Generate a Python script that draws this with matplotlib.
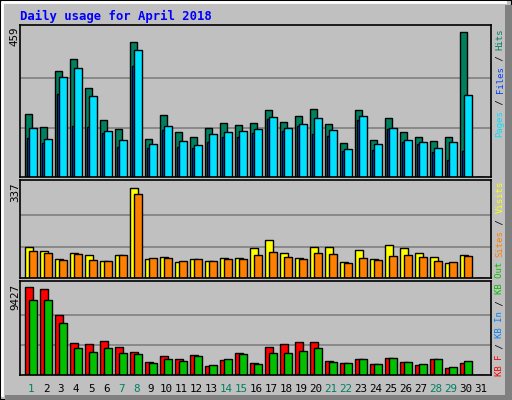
import matplotlib

matplotlib.use("Agg")
import matplotlib.pyplot as plt  # noqa: E402
from matplotlib.patches import Rectangle  # noqa: E402

W, H = 512, 400
days = list(range(1, 32))
weekend = {1, 7, 8, 14, 15, 21, 22, 28, 29}

hits = [196, 156, 330, 367, 275, 177, 150, 419, 119, 193, 141, 125, 153, 168, 162, 168,
        208, 171, 190, 211, 165, 104, 208, 116, 184, 141, 125, 113, 125, 450, 0]
files = [153, 119, 309, 337, 251, 144, 116, 395, 101, 159, 113, 98, 132, 141, 144, 150,
         187, 153, 165, 184, 147, 86, 190, 101, 153, 116, 107, 89, 107, 254, 0]
pages = [122, 104, 257, 159, 156, 135, 92, 343, 89, 147, 92, 89, 107, 125, 125, 135,
         181, 144, 159, 132, 128, 80, 177, 83, 150, 110, 101, 77, 52, 80, 0]
visits = [110, 96, 68, 89, 82, 61, 82, 323, 68, 75, 57, 68, 61, 71, 71, 106,
          135, 89, 71, 110, 110, 57, 99, 68, 120, 106, 89, 75, 54, 82, 0]
sites = [96, 89, 64, 85, 64, 61, 82, 300, 71, 71, 61, 68, 61, 68, 68, 82,
         92, 75, 68, 89, 85, 54, 71, 64, 78, 82, 75, 61, 57, 78, 0]
kb_f = [9196, 8997, 6308, 3320, 3220, 3519, 2922, 2424, 1328, 2025, 1726, 2125, 930, 1527, 2324, 1228,
        2922, 3220, 3420, 3420, 1428, 1228, 1726, 1129, 1826, 1328, 1029, 1627, 730, 1228, 0]
kb_out = [7902, 7902, 5412, 2822, 2424, 2822, 2324, 2224, 1228, 1726, 1428, 2025, 1029, 1627, 2224, 1129,
          2324, 2324, 2523, 2822, 1328, 1228, 1726, 1129, 1826, 1328, 1129, 1726, 830, 1428, 0]
kb_in = [60] * 30 + [0]

max_hits, max_visits, max_kb = 459, 337, 9427

BG = "#C0C0C0"
fig = plt.figure(figsize=(W / 100, H / 100), dpi=100, facecolor=BG)

# outer 3D frame
fig.patches.append(Rectangle((0, 0), 1, 1, transform=fig.transFigure, fill=False, ec="black", lw=1.5))
fig.patches.append(Rectangle((505 / W, 0), 7 / W, 1 - 5 / H, transform=fig.transFigure, fc="#808080", ec="none"))
fig.patches.append(Rectangle((5 / W, 0), 1 - 5 / W, 5 / H, transform=fig.transFigure, fc="#808080", ec="none"))
fig.lines.append(plt.Line2D([2 / W, 2 / W, 505 / W], [5 / H, 1 - 2 / H, 1 - 2 / H],
                            transform=fig.transFigure, color="white", lw=2))

X0, X1 = 20, 491
u = 15.0  # px per day
xlo, xhi = (X0 - 25) / u, (X1 - 25) / u


def panel(top, bot, ymax):
    ax = fig.add_axes([X0 / W, 1 - bot / H, (X1 - X0) / W, (bot - top) / H])
    ax.set_facecolor(BG)
    ax.set_xlim(xlo, xhi)
    ax.set_ylim(0, ymax * (bot - top) / (bot - top - 4))
    for g in (ymax / 3, 2 * ymax / 3):
        ax.axhline(g, color="#808080", lw=1.2, zorder=0)
    ax.set_xticks([])
    ax.set_yticks([])
    for s in ax.spines.values():
        s.set_color("black")
        s.set_linewidth(1.2)
    return ax


def bars(ax, vals, off, w, color):
    x = [d - 1 + off / u for d in days]
    ax.bar(x, vals, width=w / u, align="edge", color=color, edgecolor="black", linewidth=1, zorder=2)


ax1 = panel(25, 177, max_hits)
bars(ax1, hits, 0, 7, "#00805F")
bars(ax1, pages, 2, 3, "#0040FF")
bars(ax1, files, 4, 8, "#00E0FF")

ax2 = panel(180, 278, max_visits)
bars(ax2, visits, 0, 8, "#FFFF00")
bars(ax2, sites, 4, 8, "#FF8000")

ax3 = panel(281, 375, max_kb)
bars(ax3, kb_f, 0, 8, "#FF0000")
bars(ax3, kb_in, 2, 2, "#0080FF")
bars(ax3, kb_out, 4, 8, "#00C000")

MONO = "DejaVu Sans Mono"
fig.text(20 / W, 1 - 16 / H, "Daily usage for April 2018", color="#0000FF", family=MONO,
         fontsize=8.8, fontweight="bold", va="center", ha="left")

for y, lab in ((27, str(max_hits)), (183, str(max_visits)), (284, str(max_kb))):
    fig.text(15 / W, 1 - y / H, lab, rotation=90, family=MONO, fontsize=7.8, ha="center", va="top")

for d in days:
    x = 25 + (d - 1) * u + 6
    fig.text(x / W, 1 - 389 / H, str(d), family=MONO, fontsize=7.8, ha="center", va="center",
             color="#00805F" if d in weekend else "black")

CH = 5.45  # px per char on side labels


def side(ybottom, parts):
    y = ybottom
    for txt, col in parts:
        fig.text(500 / W, 1 - y / H, txt, rotation=90, family=MONO, fontsize=6.5, color=col,
                 ha="left", va="center", rotation_mode="anchor")
        y -= CH * len(txt)


side(137, [("Pages", "#00E0FF"), (" / ", "black"), ("Files", "#0040FF"), (" / ", "black"), ("Hits", "#00805F")])
side(257, [("Sites", "#FF8000"), (" / ", "black"), ("Visits", "#FFFF00")])
side(376, [("KB F", "#FF0000"), (" / ", "black"), ("KB In", "#0080FF"), (" / ", "black"), ("KB Out", "#00C000")])

fig.savefig("out.png", dpi=100, facecolor=BG)
